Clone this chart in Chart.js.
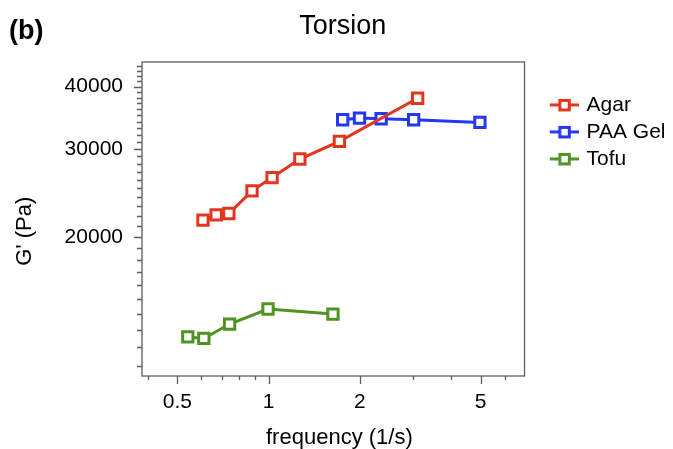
<!DOCTYPE html>
<html>
<head>
<meta charset="utf-8">
<script src="https://cdn.jsdelivr.net/npm/chart.js@4"></script>
<style>
  html, body { margin: 0; padding: 0; background: #fff; }
  #wrap { width: 673px; height: 449px; }
</style>
</head>
<body>
<div id="wrap"><canvas id="c"></canvas></div>
<script>
// values
const seriesNames = ["Agar", "PAA Gel", "Tofu"];
const agarFreq = [0.607, 0.671, 0.739, 0.881, 1.026, 1.267, 1.711, 3.10];
const agarG    = [21600, 22130, 22270, 24720, 26280, 28630, 31060, 37900];
const paaFreq  = [1.754, 1.993, 2.349, 3.007, 4.974];
const paaG     = [34320, 34580, 34480, 34320, 33900];
const tofuFreq = [0.541, 0.611, 0.743, 0.995, 1.629];
const tofuG    = [12600, 12510, 13370, 14330, 14000];

const xMajorTicks = [0.5, 1, 2, 5];
const xMinorTicks = [0.4, 0.6, 0.7, 0.8, 0.9, 3, 4, 6];
const yMajorTicks = [20000, 30000, 40000];
const yMinorTicks = [11000, 12000, 13000, 14000, 15000, 16000, 17000, 18000, 19000,
  21000, 22000, 23000, 24000, 25000, 26000, 27000, 28000, 29000,
  31000, 32000, 33000, 34000, 35000, 36000, 37000, 38000, 39000,
  41000, 42000, 43000, 44000];

const colors = ["#e2361c", "#2438f0", "#4f9422"];

Chart.defaults.font.family = '"Liberation Sans", Arial, sans-serif';
Chart.defaults.color = "#000";

const pts = (xs, ys) => xs.map((x, i) => ({ x: x, y: ys[i] }));

// legend icon: line with hollow square
function legendIcon(color) {
  const c = document.createElement("canvas");
  c.width = 51; c.height = 16;
  const g = c.getContext("2d");
  g.strokeStyle = color;
  g.lineWidth = 3;
  g.beginPath(); g.moveTo(22, 8); g.lineTo(51, 8); g.stroke();
  g.fillStyle = "#fff";
  g.fillRect(32, 3.5, 9.5, 9.5);
  g.strokeRect(32, 3.5, 9.5, 9.5);
  return c;
}
const icons = colors.map(legendIcon);

// frame + tick marks, placed with the scales
const frameTicks = {
  id: "frameTicks",
  afterDraw(chart) {
    const { ctx, chartArea: a, scales: { x, y } } = chart;
    ctx.save();
    ctx.strokeStyle = "#5e5e5e";
    ctx.lineWidth = 1.3;
    ctx.strokeRect(a.left, a.top, a.right - a.left, a.bottom - a.top);
    ctx.beginPath();
    const xt = (v, len) => {
      const px = Math.round(x.getPixelForValue(v)) + 0.5;
      ctx.moveTo(px, a.bottom); ctx.lineTo(px, a.bottom + len);
    };
    const yt = (v, len) => {
      const py = Math.round(y.getPixelForValue(v)) + 0.5;
      ctx.moveTo(a.left, py); ctx.lineTo(a.left - len, py);
    };
    xMajorTicks.forEach(v => xt(v, 8));
    xMinorTicks.forEach(v => xt(v, 4));
    yMajorTicks.forEach(v => yt(v, 8));
    yMinorTicks.forEach(v => yt(v, 5));
    ctx.stroke();
    // panel label
    ctx.fillStyle = "#000";
    ctx.font = 'bold 27px "Liberation Sans", Arial, sans-serif';
    ctx.textBaseline = "alphabetic";
    ctx.fillText("(b)", 9, 39);
    ctx.restore();
  }
};

const ds = (i, xs, ys) => ({
  label: seriesNames[i],
  data: pts(xs, ys),
  borderColor: colors[i],
  backgroundColor: colors[i],
  borderWidth: 3,
  pointStyle: "rect",
  pointRadius: 7.3,
  pointHoverRadius: 7.3,
  pointBorderWidth: 3,
  pointBackgroundColor: "#fff",
  pointBorderColor: colors[i],
  showLine: true
});

new Chart(document.getElementById("c"), {
  type: "line",
  data: {
    datasets: [
      ds(0, agarFreq, agarG),
      ds(1, paaFreq, paaG),
      ds(2, tofuFreq, tofuG)
    ]
  },
  plugins: [frameTicks],
  options: {
    responsive: true,
    maintainAspectRatio: false,
    animation: false,
    layout: { padding: { left: 10, right: -2.5, top: 0, bottom: 0 } },
    scales: {
      x: {
        type: "logarithmic",
        min: 0.382,
        max: 6.98,
        afterFit: s => { s.height = 73; },
        afterBuildTicks: s => { s.ticks = xMajorTicks.map(v => ({ value: v })); },
        grid: { display: false, drawTicks: false },
        border: { display: false },
        ticks: {
          padding: 14,
          font: { size: 21 },
          callback: v => String(v)
        },
        title: {
          display: true,
          text: "  frequency (1/s)",
          font: { size: 22 },
          padding: { top: 0, bottom: -2 }
        }
      },
      y: {
        type: "logarithmic",
        min: 10520,
        max: 44800,
        afterFit: s => { s.width = 132; },
        afterBuildTicks: s => { s.ticks = yMajorTicks.map(v => ({ value: v })); },
        grid: { display: false, drawTicks: false },
        border: { display: false },
        ticks: {
          padding: 19,
          font: { size: 21 },
          callback: v => String(v)
        },
        title: {
          display: true,
          text: "G' (Pa)    ",
          font: { size: 22 },
          padding: { top: 2, bottom: 0 }
        }
      }
    },
    plugins: {
      title: {
        display: true,
        text: "Torsion",
        font: { size: 27, weight: "normal" },
        color: "#000",
        padding: { top: 10, bottom: 19.6 }
      },
      legend: {
        position: "right",
        align: "start",
        fullSize: false,
        title: { display: true, text: " ", font: { size: 12 }, padding: { top: 12, bottom: 0 } },
        labels: {
          usePointStyle: true,
          pointStyleWidth: 45.5,
          padding: 6,
          font: { size: 21 },
          color: "#000",
          generateLabels: chart => {
            const items = Chart.defaults.plugins.legend.labels.generateLabels(chart);
            items.forEach((it, i) => { it.pointStyle = icons[i]; });
            return items;
          }
        }
      },
      tooltip: { enabled: false }
    }
  }
});
</script>
</body>
</html>
